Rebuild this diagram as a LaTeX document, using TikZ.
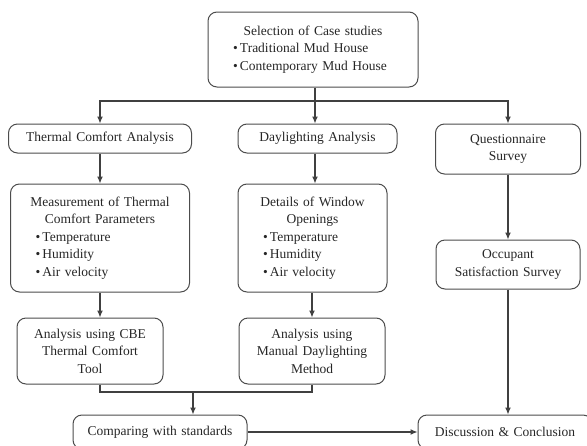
\documentclass[tikz,border=0pt]{standalone}
\usepackage{fontspec}
\setmainfont{Liberation Serif}
\usetikzlibrary{arrows.meta}
\newcommand{\bitem}[1]{\makebox[\linewidth][l]{\hspace*{25pt}\textbullet\,#1}}

\begin{document}
\begin{tikzpicture}
  [x=1pt,y=-1pt,
   box/.style={draw=black!70,line width=1pt,rounded corners=9pt,inner sep=0pt,
     align=center,text=black!85,font=\fontsize{13.5}{17.5}\selectfont},
   lin/.style={draw=black!75,line width=1.2pt},
   arr/.style={lin,-{Latex[length=7pt,width=6pt]}}]
  \useasboundingbox (0,0) rectangle (587,445);

  \node[box,text width=210pt,minimum height=75pt] (sel) at (313,49.5)
    {Selection of Case studies\\ \bitem{Traditional Mud House}\\ \bitem{Contemporary Mud House}};
  \node[box,text width=183pt,minimum height=29pt] (tca) at (100,138.5) {Thermal Comfort Analysis};
  \node[box,text width=159pt,minimum height=29pt] (dla) at (317.5,138.5) {Daylighting Analysis};
  \node[box,text width=145pt,minimum height=50pt] (qs) at (508,149) {Questionnaire\\Survey};
  \node[box,text width=179pt,minimum height=108pt] (meas) at (100,238)
    {Measurement of Thermal\\Comfort Parameters\\ \bitem{Temperature}\\ \bitem{Humidity}\\ \bitem{Air velocity}};
  \node[box,text width=149pt,minimum height=108pt] (win) at (312.5,238)
    {Details of Window\\Openings\\ \bitem{Temperature}\\ \bitem{Humidity}\\ \bitem{Air velocity}};
  \node[box,text width=144pt,minimum height=49pt] (occ) at (508,264.5) {Occupant\\Satisfaction Survey};
  \node[box,text width=146pt,minimum height=66pt] (cbe) at (90,351) {Analysis using CBE\\Thermal Comfort\\Tool};
  \node[box,text width=146pt,minimum height=66pt] (man) at (312,351) {Analysis using\\Manual Daylighting\\Method};
  \node[box,text width=174pt,minimum height=34pt] (cmp) at (160,432) {Comparing with standards};
  \node[box,text width=174pt,minimum height=34pt] (dis) at (505,432) {Discussion \& Conclusion};

  \coordinate (split) at (315,101);
  \coordinate (merge) at (193,392);

  % top split
  \draw[lin] (split |- sel.south) -- (split);
  \draw[arr] (split) -| (tca);
  \draw[arr] (split) -- (split |- dla.north);
  \draw[arr] (split) -| (qs);

  % columns
  \draw[arr] (tca) -- (meas);
  \draw[arr] (split |- dla.south) -- (split |- win.north);
  \draw[arr] (meas.south) -- (meas.south |- cbe.north);
  \draw[arr] (man.north |- win.south) -- (man.north);
  \draw[arr] (qs) -- (occ);

  % bottom
  \draw[lin] (meas.south |- cbe.south) |- (man.south |- merge) -- (man.south);
  \draw[arr] (merge) -- (merge |- cmp.north);
  \draw[arr] (occ.south) -- (occ.south |- dis.north);
  \draw[arr] (cmp) -- (dis);

\end{tikzpicture}
\end{document}
